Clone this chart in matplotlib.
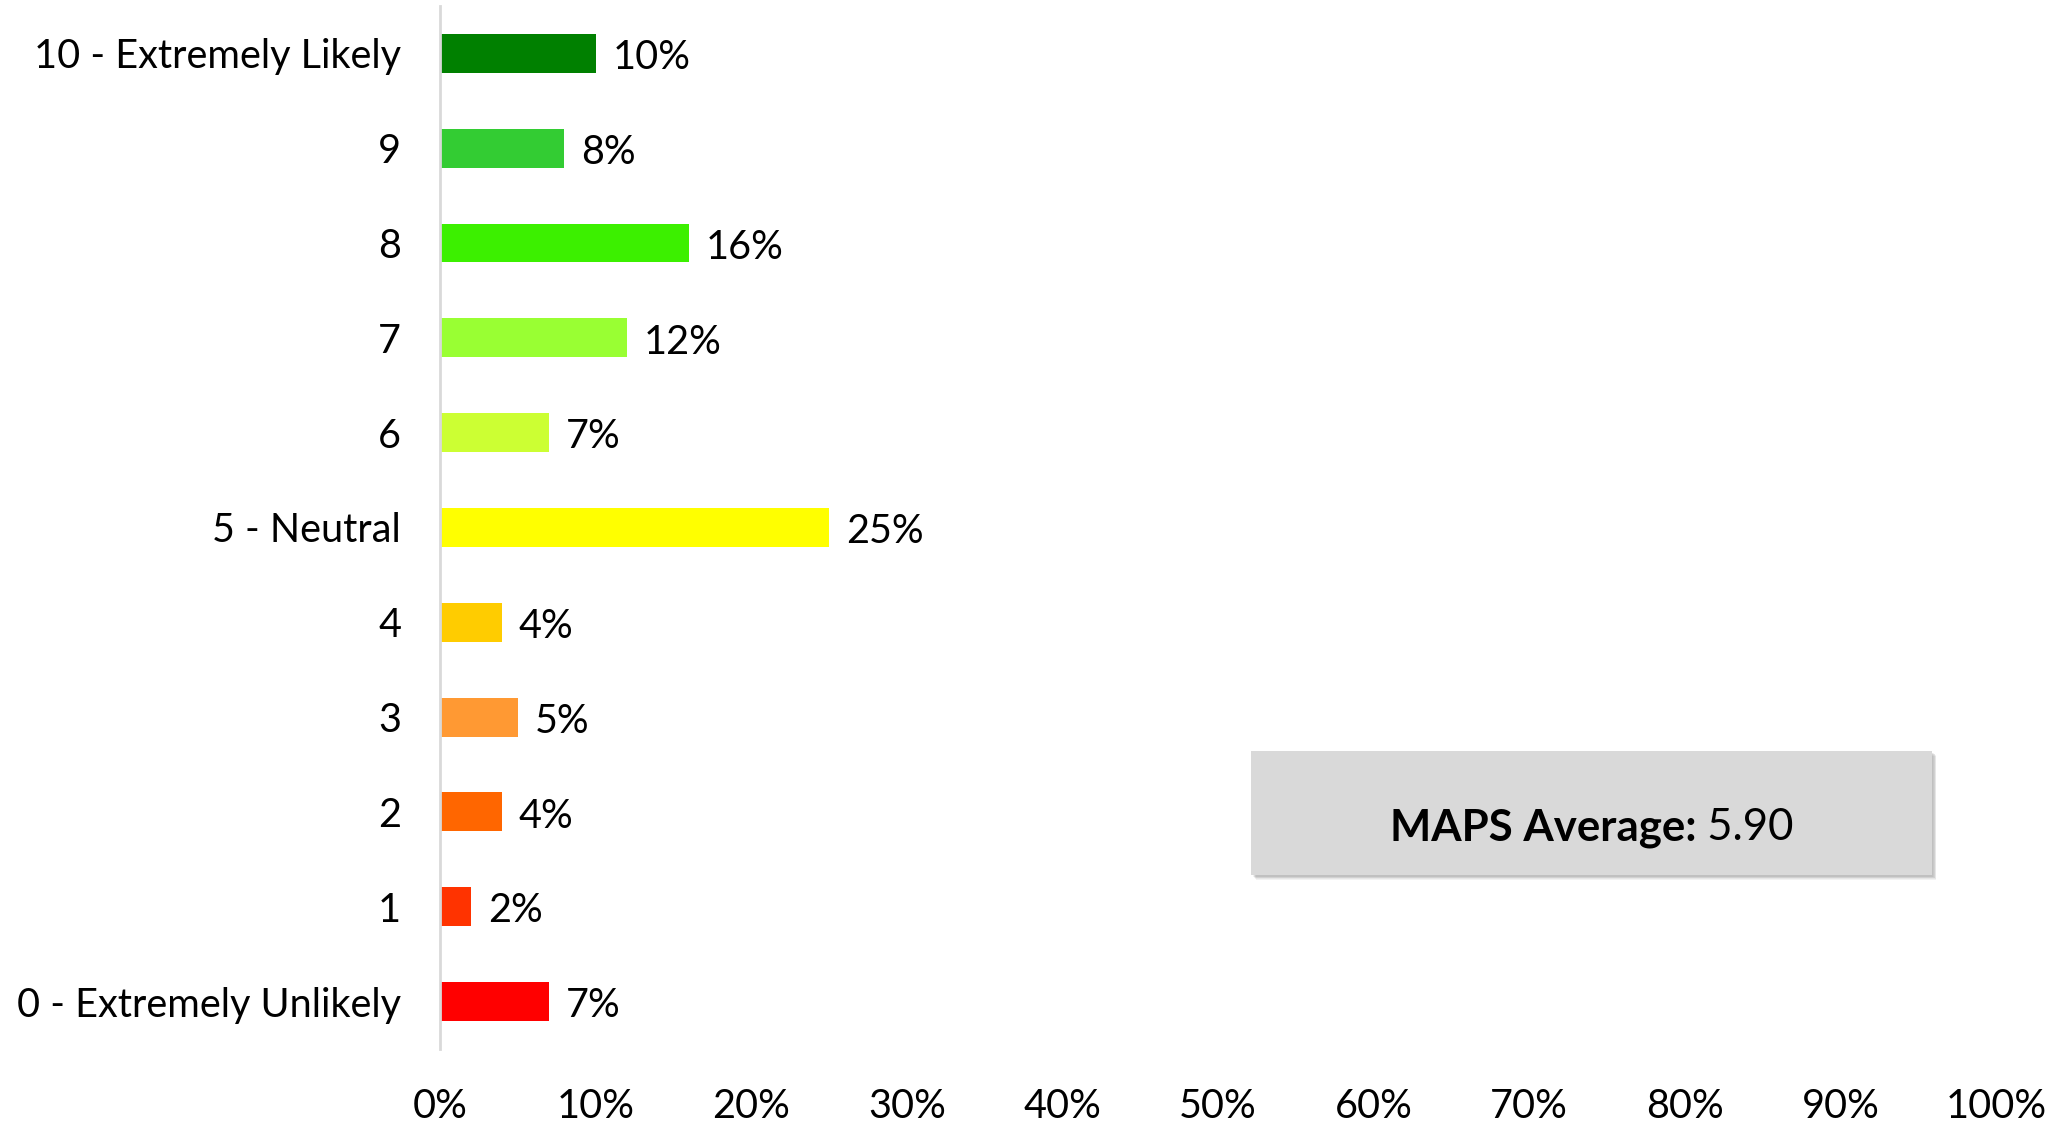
import matplotlib.pyplot as plt
from matplotlib.patches import Rectangle

plt.rcParams['font.family'] = ['Lato', 'DejaVu Sans']

# datos (de abajo hacia arriba)
categorias = ['0 - Extremely Unlikely', '1', '2', '3', '4', '5 - Neutral',
              '6', '7', '8', '9', '10 - Extremely Likely']
porcentajes = [7, 2, 4, 5, 4, 25, 7, 12, 16, 8, 10]
colores = ['#FF0000', '#FF3300', '#FF6600', '#FF9933', '#FFCC00', '#FFFF00',
           '#CCFF33', '#99FF33', '#3CF000', '#33CC33', '#008000']
ticks_x = [0, 10, 20, 30, 40, 50, 60, 70, 80, 90, 100]
promedio = 5.90

fig = plt.figure(figsize=(20.55, 11.26), dpi=100)
ax = fig.add_axes([0.2141, 0.0684, 0.7572, 0.9263])

pos = list(range(len(categorias)))
ax.barh(pos, porcentajes, height=0.41, color=colores)
for y, v in zip(pos, porcentajes):
    ax.annotate(f'{v}%', (v, y), xytext=(12, -3), textcoords='offset points',
                ha='left', va='center', fontsize=28.5)

ax.set_xlim(0, 100)
ax.set_ylim(-0.5, 10.5)
ax.set_yticks(pos)
ax.set_yticklabels(categorias, fontsize=28.5)
ax.set_xticks(ticks_x)
ax.set_xticklabels([f'{t}%' for t in ticks_x], fontsize=28.5)
ax.tick_params(length=0)
ax.tick_params(axis='y', pad=28)
ax.tick_params(axis='x', pad=28)
for s in ['top', 'right', 'bottom']:
    ax.spines[s].set_visible(False)
ax.spines['left'].set_color('#D9D9D9')
ax.spines['left'].set_linewidth(2)

# caja con el promedio (sombra suave)
bx, by, bw, bh = 0.609, 0.223, 0.331, 0.110
dx, dy = 1.0 / 2055, 1.0 / 1126
for k in range(1, 7):
    fig.patches.append(Rectangle((bx + (1 + k * 0.6) * dx, by - (1 + k * 0.6) * dy), bw, bh,
                                 transform=fig.transFigure, facecolor='#808080',
                                 edgecolor='none', alpha=0.10, zorder=1))
fig.patches.append(Rectangle((bx, by), bw, bh, transform=fig.transFigure,
                             facecolor='#D9D9D9', edgecolor='none', zorder=2))

t1 = fig.text(0, 0, 'MAPS Average:', fontsize=31.5, fontweight='bold', zorder=3)
t2 = fig.text(0, 0, f' {promedio:.2f}', fontsize=31.5, zorder=3)
fig.canvas.draw()
r = fig.canvas.get_renderer()
w1 = t1.get_window_extent(r).width / fig.bbox.width
w2 = t2.get_window_extent(r).width / fig.bbox.width
xc = bx + bw / 2
x0 = xc - (w1 + w2) / 2
yc = 1 - 828 / 1126
t1.set_position((x0, yc))
t1.set_va('center')
t2.set_position((x0 + w1, yc))
t2.set_va('center')

fig.savefig('out.png', dpi=100)
